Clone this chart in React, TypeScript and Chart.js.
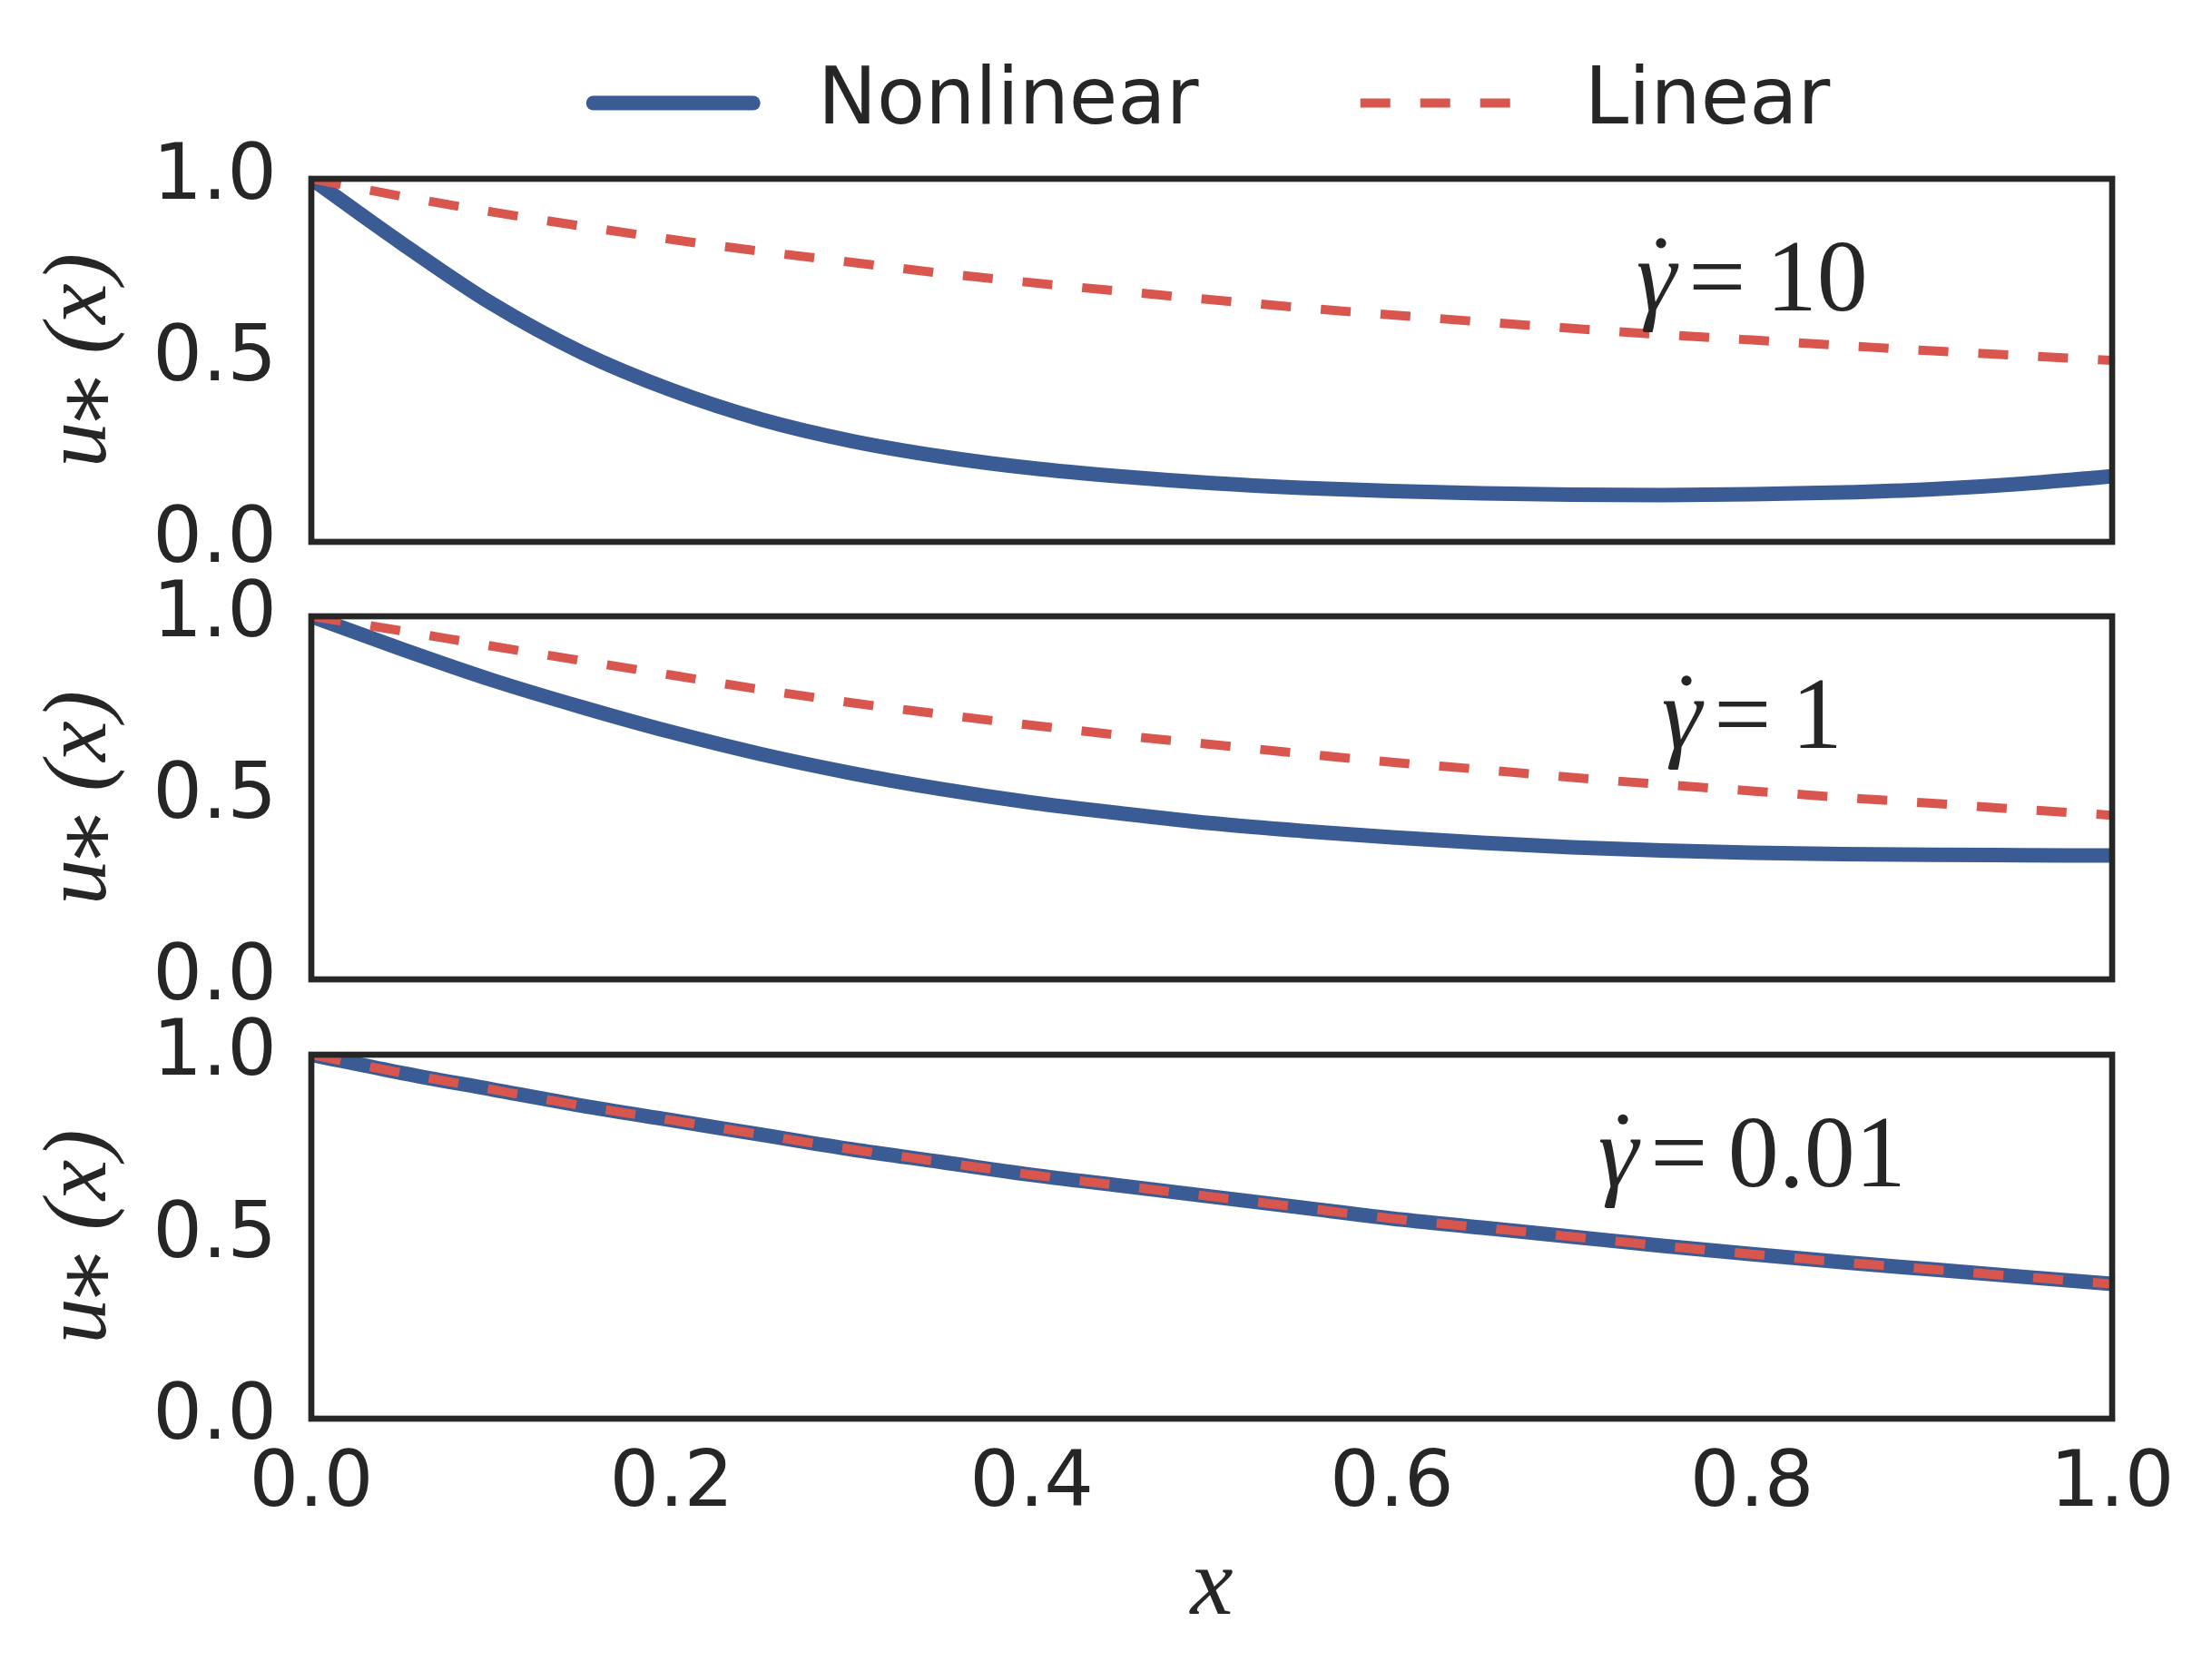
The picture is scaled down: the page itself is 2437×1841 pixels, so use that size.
import React, { useEffect, useRef } from 'react';
import { Chart, registerables } from 'chart.js';

Chart.register(...registerables);

// ---------------- data ----------------
const xValues = [0, 0.05, 0.1, 0.15, 0.2, 0.25, 0.3, 0.35, 0.4, 0.45, 0.5, 0.55, 0.6, 0.65, 0.7, 0.75, 0.8, 0.85, 0.9, 0.95, 1.0];

const nonlinearG10 = [1.0, 0.823, 0.657, 0.522, 0.418, 0.337, 0.278, 0.235, 0.203, 0.18, 0.162, 0.149, 0.14, 0.134, 0.13, 0.129, 0.131, 0.136, 0.145, 0.16, 0.181];
const linearG10 = [1.0, 0.952, 0.909, 0.87, 0.833, 0.8, 0.77, 0.74, 0.714, 0.69, 0.667, 0.645, 0.625, 0.606, 0.588, 0.571, 0.556, 0.541, 0.526, 0.513, 0.5];

const nonlinearG1 = [1.0, 0.91, 0.825, 0.75, 0.681, 0.62, 0.568, 0.524, 0.487, 0.457, 0.43, 0.409, 0.391, 0.376, 0.364, 0.355, 0.349, 0.345, 0.343, 0.342, 0.341];
const linearG1 = [1.0, 0.96, 0.918, 0.878, 0.838, 0.798, 0.762, 0.73, 0.7, 0.672, 0.647, 0.622, 0.598, 0.578, 0.556, 0.537, 0.519, 0.501, 0.485, 0.468, 0.452];

const nonlinearG001 = [1.0, 0.95, 0.905, 0.86, 0.82, 0.78, 0.74, 0.705, 0.67, 0.64, 0.61, 0.58, 0.55, 0.525, 0.5, 0.475, 0.452, 0.43, 0.41, 0.39, 0.37];
const linearG001 = [1.0, 0.95, 0.905, 0.86, 0.82, 0.78, 0.74, 0.705, 0.67, 0.64, 0.61, 0.58, 0.55, 0.525, 0.5, 0.475, 0.452, 0.43, 0.41, 0.39, 0.37];

const gammaValues = ['10', '1', '0.01'];
const seriesNames = ['Nonlinear', 'Linear'];
const yTickValues = [0, 0.5, 1];
const xTickValues = [0, 0.2, 0.4, 0.6, 0.8, 1];

const nonlinearSets = [nonlinearG10, nonlinearG1, nonlinearG001];
const linearSets = [linearG10, linearG1, linearG001];

// ---------------- style ----------------
const W = 2437;
const H = 1841;
const BLUE = '#3b5b94';
const RED = '#d9564e';
const INK = '#262626';
const PLOT_LEFT = 343;
const PLOT_RIGHT = 2327;
const PANEL_TOPS = [197, 679, 1162];
const PANEL_BOTTOMS = [597, 1079, 1563];
const TICK_FONT = { family: 'DejaVu Sans', size: 86 };
const MATH_FAMILY = '"Liberation Serif", "DejaVu Serif", serif';

const framePlugin = {
  id: 'frameAndLabel',
  afterDatasetsDraw(chart: any, _args: any, opts: any) {
    const { ctx, chartArea } = chart;
    const xs = chart.scales.x;
    const ys = chart.scales.y;
    ctx.save();
    if (opts && opts.value) {
      const cx = xs.getPixelForValue(0.8);
      const by = ys.getPixelForValue(0.638);
      const size = 112;
      const italic = `italic ${size}px ${MATH_FAMILY}`;
      const upright = `${size}px ${MATH_FAMILY}`;
      ctx.fillStyle = INK;
      ctx.textBaseline = 'alphabetic';
      ctx.textAlign = 'left';
      const g = '\u03B3';
      ctx.font = italic;
      const wg = ctx.measureText(g).width;
      ctx.font = upright;
      const we = ctx.measureText('=').width;
      const wv = ctx.measureText(opts.value).width;
      const gap1 = size * 0.12;
      const gap2 = size * 0.2;
      const total = wg + gap1 + we + gap2 + wv;
      let x = cx - total / 2;
      ctx.font = italic;
      ctx.fillText(g, x, by);
      ctx.beginPath();
      ctx.arc(x + wg * 0.62, by - size * 0.66, size * 0.05, 0, Math.PI * 2);
      ctx.fill();
      x += wg + gap1;
      ctx.font = upright;
      ctx.fillText('=', x, by);
      x += we + gap2;
      ctx.fillText(opts.value, x, by);
    }
    ctx.strokeStyle = INK;
    ctx.lineWidth = 6.7;
    ctx.setLineDash([]);
    ctx.strokeRect(chartArea.left, chartArea.top, chartArea.right - chartArea.left, chartArea.bottom - chartArea.top);
    ctx.restore();
  },
};

function buildChart(canvas: HTMLCanvasElement, idx: number) {
  const isTop = idx === 0;
  const isBottom = idx === 2;
  const toPts = (vals: number[]) => xValues.map((x, i) => ({ x, y: vals[i] }));

  const xScale: any = {
    type: 'linear',
    min: 0,
    max: 1,
    position: 'bottom',
    display: isBottom,
    afterBuildTicks: (s: any) => {
      s.ticks = xTickValues.map((v) => ({ value: v }));
    },
    ticks: {
      font: TICK_FONT,
      color: INK,
      padding: 22,
      maxRotation: 0,
      autoSkip: false,
      callback: (v: any) => Number(v).toFixed(1),
    },
    grid: { display: false, drawTicks: false },
    border: { display: false },
    title: {
      display: true,
      text: 'x',
      color: INK,
      font: { family: MATH_FAMILY, size: 106, style: 'italic' },
      padding: { top: 0, bottom: 27 },
    },
  };
  if (isBottom) {
    xScale.afterFit = (s: any) => {
      s.height = H - PANEL_BOTTOMS[2];
    };
  }

  const scales: any = {
    x: xScale,
    y: {
      type: 'linear',
      min: 0,
      max: 1,
      position: 'left',
      afterBuildTicks: (s: any) => {
        s.ticks = yTickValues.map((v) => ({ value: v }));
      },
      ticks: {
        font: TICK_FONT,
        color: INK,
        padding: 38,
        callback: (v: any) => Number(v).toFixed(1),
      },
      grid: { display: false, drawTicks: false },
      border: { display: false },
      title: {
        display: true,
        text: 'u\u204E (x)',
        color: INK,
        font: { family: MATH_FAMILY, size: 100, style: 'italic' },
        padding: { top: 30, bottom: 0 },
      },
      afterFit: (s: any) => {
        s.width = PLOT_LEFT;
      },
    },
  };

  if (isTop) {
    scales.spacer = {
      type: 'linear',
      position: 'top',
      display: true,
      grid: { display: false, drawTicks: false },
      border: { display: false },
      ticks: { display: false },
      afterFit: (s: any) => {
        s.height = PANEL_TOPS[0] - 167;
      },
    };
  }

  return new Chart(canvas, {
    type: 'line',
    data: {
      datasets: [
        {
          label: seriesNames[0],
          data: toPts(nonlinearSets[idx]),
          borderColor: BLUE,
          backgroundColor: BLUE,
          borderWidth: 16,
          borderCapStyle: 'round',
          pointRadius: 0,
          pointStyle: 'line',
          cubicInterpolationMode: 'monotone',
          fill: false,
          clip: 0,
          order: 1,
        },
        {
          label: seriesNames[1],
          data: toPts(linearSets[idx]),
          borderColor: RED,
          backgroundColor: RED,
          borderWidth: 10,
          borderDash: [33, 33],
          borderCapStyle: 'butt',
          pointRadius: 0,
          pointStyle: 'line',
          cubicInterpolationMode: 'monotone',
          fill: false,
          clip: 0,
          order: 0,
        },
      ] as any,
    },
    options: {
      responsive: false,
      maintainAspectRatio: false,
      devicePixelRatio: 1,
      animation: false,
      events: [],
      layout: {
        padding: {
          top: isTop ? 30 : PANEL_TOPS[idx],
          left: 0,
          right: W - PLOT_RIGHT,
          bottom: isBottom ? 0 : H - PANEL_BOTTOMS[idx],
        },
      },
      scales,
      plugins: {
        tooltip: { enabled: false },
        title: { display: false },
        legend: {
          display: isTop,
          position: 'top',
          fullSize: false,
          labels: {
            usePointStyle: true,
            pointStyleWidth: 176,
            padding: 40,
            color: INK,
            font: { family: 'DejaVu Sans', size: 87 },
            generateLabels: (chart: any) =>
              chart.data.datasets.map((ds: any, i: number) => ({
                text: ' ' + ds.label + (i === 0 ? '     ' : ''),
                fillStyle: ds.borderColor,
                strokeStyle: ds.borderColor,
                lineWidth: ds.borderWidth,
                lineDash: ds.borderDash || [],
                lineDashOffset: 0,
                lineCap: ds.borderCapStyle || 'butt',
                pointStyle: 'line',
                hidden: false,
                datasetIndex: i,
                fontColor: INK,
              })),
          },
        },
        frameAndLabel: { value: gammaValues[idx] },
      } as any,
    },
    plugins: [framePlugin],
  });
}

function Panel({ idx }: { idx: number }) {
  const ref = useRef<HTMLCanvasElement | null>(null);
  useEffect(() => {
    if (!ref.current) return;
    const chart = buildChart(ref.current, idx);
    return () => chart.destroy();
  }, [idx]);
  return (
    <canvas
      ref={ref}
      width={W}
      height={H}
      style={{ position: 'absolute', left: 0, top: 0, width: W, height: H }}
    />
  );
}

export default function App() {
  useEffect(() => {
    document.body.style.margin = '0';
    document.body.style.overflow = 'hidden';
  }, []);
  return (
    <div style={{ position: 'absolute', left: 0, top: 0, width: W, height: H, background: '#ffffff', overflow: 'hidden' }}>
      <Panel idx={0} />
      <Panel idx={1} />
      <Panel idx={2} />
    </div>
  );
}
